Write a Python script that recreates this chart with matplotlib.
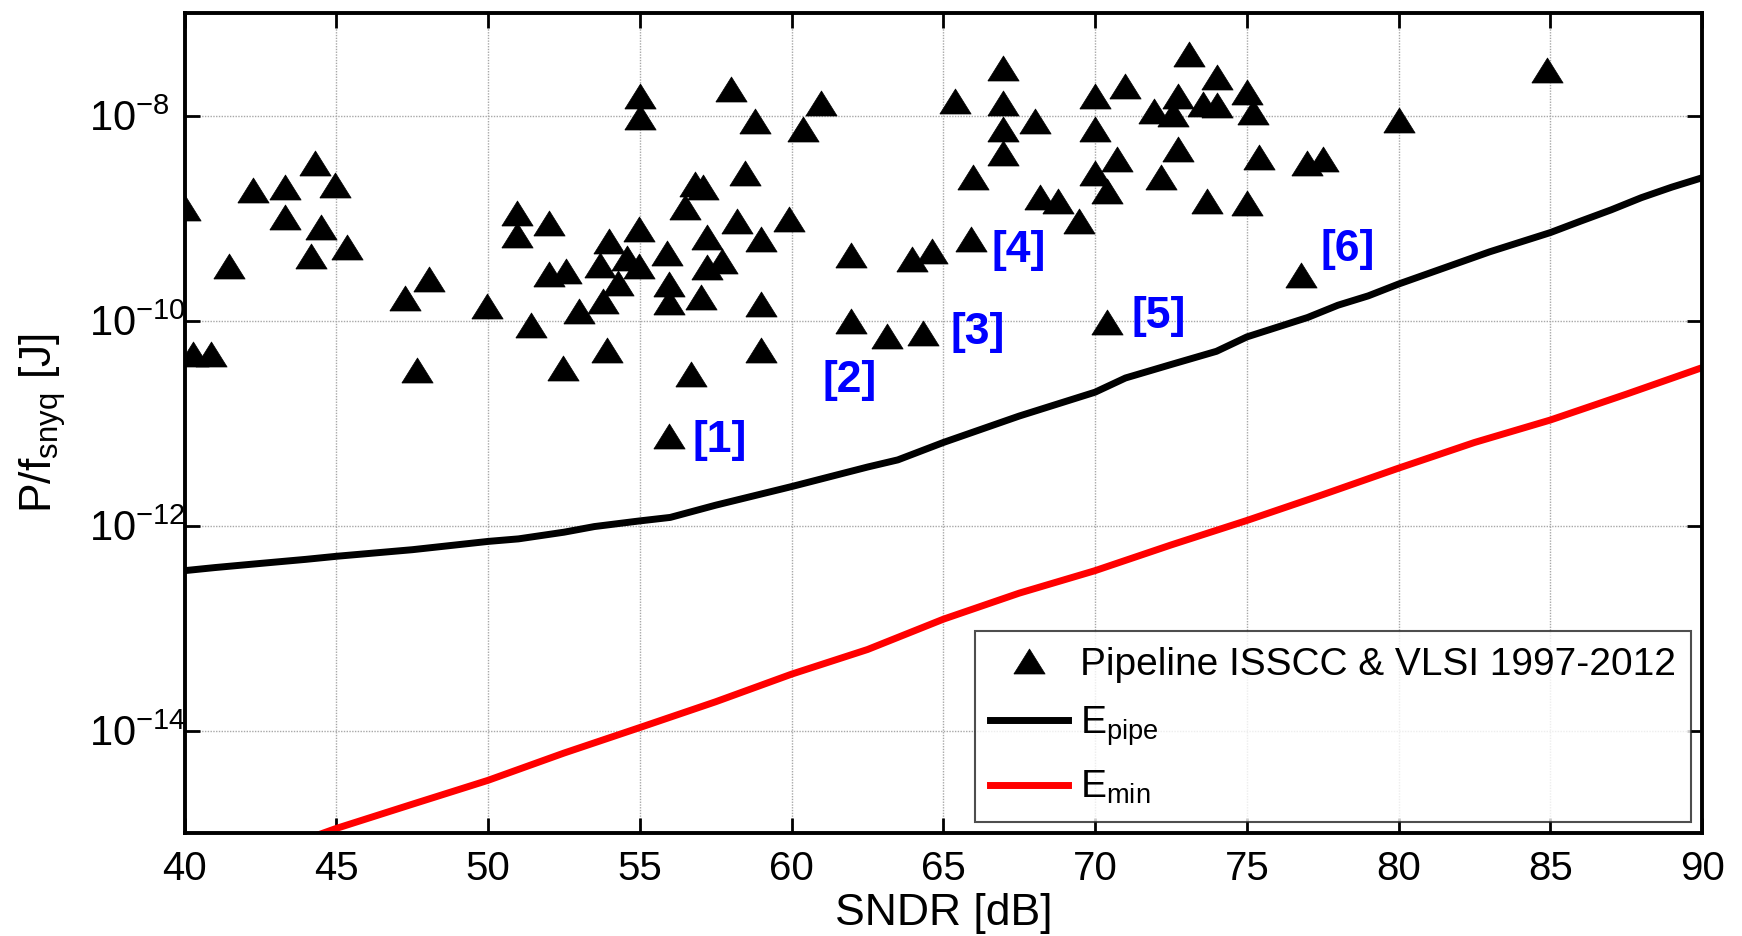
import numpy as np
import matplotlib
matplotlib.use('Agg')
import matplotlib.pyplot as plt
from matplotlib.ticker import NullLocator

plt.rcParams['font.family'] = ['Liberation Sans', 'DejaVu Sans']
plt.rcParams['mathtext.fontset'] = 'custom'
plt.rcParams['mathtext.rm'] = 'Liberation Sans'
plt.rcParams['mathtext.it'] = 'Liberation Sans'
plt.rcParams['mathtext.default'] = 'regular'

# Pipeline ADCs, ISSCC & VLSI 1997-2012 (SNDR [dB], P/fsnyq [J])
sndr = [40.0, 40.27, 40.86, 41.47, 42.25, 43.30, 43.30, 44.29, 44.95, 44.48,
        44.16, 45.35, 47.26, 48.05, 47.64, 49.97, 50.95, 50.95, 52.0, 51.41,
        52.0, 52.58, 52.46, 52.98, 53.79, 53.90, 53.98, 53.68, 54.29, 54.56,
        54.97, 54.97, 55.0, 55.0, 55.88, 55.95, 55.95, 56.70, 55.95, 56.81,
        56.48, 57.07, 58.0, 58.79, 60.97, 60.36, 58.46, 58.19, 59.91, 58.99,
        57.2, 57.71, 57.2, 57.03, 58.99, 58.99, 61.95, 63.98, 64.64, 61.95,
        63.13, 64.32,
        66.97, 65.38, 66.97, 66.97, 66.97, 68.02, 65.96, 65.91, 68.2, 68.78,
        69.47, 69.99, 70.0, 70.98, 70.0, 70.71, 70.38, 70.38, 73.08, 71.94,
        72.74, 72.55, 73.56, 72.74, 72.16, 73.68, 74.0, 74.0, 75.0, 75.19,
        75.4, 76.97, 77.52, 75.0, 80.01, 76.77, 84.89]
energy = [1.24e-9, 4.71e-11, 4.71e-11, 3.40e-10, 1.86e-9, 2.01e-9, 1.03e-9, 3.48e-9, 2.10e-9, 8.24e-10,
          4.22e-10, 5.26e-10, 1.64e-10, 2.56e-10, 3.27e-11, 1.38e-10, 1.13e-9, 6.84e-10, 9.02e-10, 9.14e-11,
          2.82e-10, 3.05e-10, 3.42e-11, 1.25e-10, 1.56e-10, 5.12e-11, 5.98e-10, 3.50e-10, 2.34e-10, 4.09e-10,
          7.82e-10, 3.37e-10, 1.56e-8, 9.77e-9, 4.57e-10, 2.25e-10, 1.50e-10, 2.99e-11, 7.53e-12, 2.17e-9,
          1.27e-9, 2.01e-9, 1.80e-8, 8.75e-9, 1.31e-8, 7.31e-9, 2.75e-9, 9.35e-10, 9.77e-10, 6.25e-10,
          6.55e-10, 3.83e-10, 3.32e-10, 1.71e-10, 1.44e-10, 5.12e-11, 4.38e-10, 4.00e-10, 4.79e-10, 1.00e-10,
          7.00e-11, 7.64e-11,
          2.90e-8, 1.38e-8, 1.31e-8, 7.31e-9, 4.28e-9, 8.75e-9, 2.50e-9, 6.25e-10, 1.61e-9, 1.46e-9,
          9.35e-10, 1.56e-8, 7.31e-9, 1.95e-8, 2.75e-9, 3.74e-9, 1.84e-9, 9.64e-11, 4.00e-8, 1.10e-8,
          1.56e-8, 1.04e-8, 1.29e-8, 4.68e-9, 2.50e-9, 1.46e-9, 2.36e-8, 1.27e-8, 1.71e-8, 1.09e-8,
          3.94e-9, 3.44e-9, 3.77e-9, 1.41e-9, 9.14e-9, 2.80e-10, 2.79e-8]

# E_pipe curve
pipe_sndr = [40, 41, 42.5, 44, 45, 47.5, 50, 51, 52.5, 53.5, 55, 56, 57.5, 60, 62.5, 63.5,
             65, 67.5, 70, 71, 72.5, 74, 75, 77, 78, 79, 80, 81.7, 83, 85, 86, 87, 88, 89, 90]
pipe_e = [3.63e-13, 3.89e-13, 4.27e-13, 4.68e-13, 5.01e-13, 5.81e-13, 7.00e-13, 7.41e-13,
          8.61e-13, 9.77e-13, 1.11e-12, 1.20e-12, 1.58e-12, 2.40e-12, 3.72e-12, 4.37e-12,
          6.46e-12, 1.17e-11, 2.00e-11, 2.75e-11, 3.72e-11, 5.01e-11, 6.92e-11, 1.07e-10,
          1.41e-10, 1.74e-10, 2.27e-10, 3.42e-10, 4.68e-10, 7.21e-10, 9.33e-10, 1.20e-9,
          1.58e-9, 2.00e-9, 2.47e-9]

# E_min curve
min_sndr = [44, 45, 47.5, 50, 52.5, 55, 57.5, 60, 62.5, 65, 67.5, 70, 72.5, 75, 77.5,
            80, 82.5, 85, 87.5, 90]
min_e = [8.71e-16, 1.11e-15, 1.91e-15, 3.27e-15, 6.03e-15, 1.07e-14, 1.91e-14, 3.55e-14,
         6.17e-14, 1.22e-13, 2.19e-13, 3.63e-13, 6.46e-13, 1.12e-12, 2.00e-12, 3.63e-12,
         6.46e-12, 1.07e-11, 1.91e-11, 3.47e-11]

# reference labels
ref_text = ['[1]', '[2]', '[3]', '[4]', '[5]', '[6]']
ref_x = [56.75, 61.03, 65.22, 66.59, 71.2, 77.44]
ref_y = [6.68e-12, 2.59e-11, 7.64e-11, 4.83e-10, 1.09e-10, 4.89e-10]

ytick_vals = [1e-14, 1e-12, 1e-10, 1e-8]
ytick_text = [r'10$^{-14}$', r'10$^{-12}$', r'10$^{-10}$', r'10$^{-8}$']
xtick_vals = [40, 45, 50, 55, 60, 65, 70, 75, 80, 85, 90]

fig = plt.figure(figsize=(17.42, 9.36), dpi=100)
ax = fig.add_axes([0.106, 0.110, 0.8711, 0.8761])

tri = [(-1, -0.8), (1, -0.8), (0, 0.8), (-1, -0.8)]
ax.plot(sndr, energy, ls='none', marker=tri, ms=22.5, color='k', mew=0.5,
        label='Pipeline ISSCC & VLSI 1997-2012', zorder=3)
ax.plot(pipe_sndr, pipe_e, color='k', lw=5, label=r'E$_{pipe}$', zorder=2)
ax.plot(min_sndr, min_e, color='red', lw=5, label=r'E$_{min}$', zorder=2)

for t, xx, yy in zip(ref_text, ref_x, ref_y):
    ax.text(xx, yy, t, color='blue', fontsize=32, fontweight='bold',
            ha='left', va='center', zorder=4)

ax.set_yscale('log')
ax.set_xlim(40, 90)
ax.set_ylim(1e-15, 1e-7)
ax.set_xticks(xtick_vals)
ax.set_yticks(ytick_vals)
ax.set_yticklabels(ytick_text)
ax.yaxis.set_minor_locator(NullLocator())
ax.tick_params(direction='in', top=True, right=True, length=11, width=2,
               labelsize=29)
ax.tick_params(axis='y', labelsize=30, pad=69)
ax.tick_params(axis='x', pad=12)
for lab in ax.get_yticklabels():
    lab.set_horizontalalignment('left')
for s in ax.spines.values():
    s.set_linewidth(2.8)
ax.grid(True, color='#a8a8a8', ls=(0, (1, 1)), lw=1)
ax.set_axisbelow(True)

ax.set_xlabel('SNDR [dB]', fontsize=32, labelpad=4)
ax.set_ylabel(r'P/f$_{snyq}$ [J]', fontsize=32)
ax.yaxis.set_label_coords(-0.077, 0.5)

leg = ax.legend(loc='lower right', bbox_to_anchor=(0.9928, 0.0134),
                fontsize=28, frameon=True, fancybox=False, edgecolor='#222222',
                borderpad=0.4, handlelength=2.0, handletextpad=0.3,
                labelspacing=0.55, borderaxespad=0)
leg.get_frame().set_linewidth(1.5)

fig.savefig('out.png', dpi=100)
